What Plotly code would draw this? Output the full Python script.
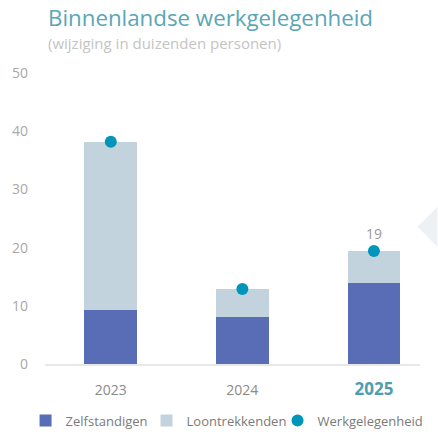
import plotly.graph_objects as go

years = ["2023", "2024", "2025"]
zelfstandigen = [9.3, 8.0, 13.9]
loontrekkenden = [28.9, 4.9, 5.6]
werkgelegenheid = [38.2, 12.9, 19.4]
y_ticks = [0, 10, 20, 30, 40, 50]
x_ticktext = ["2023", "2024", "<b><span style='color:#519DB0;font-size:17px'>2025</span></b>"]
dot_labels = ["", "", "19"]

W, H = 438, 434
L, R, T, B = 44.5, 17.5, 73, 69.7
FONT = "Open Sans"

fig = go.Figure()
fig.add_bar(x=years, y=zelfstandigen, name="Zelfstandigen", marker_color="#586DB6",
            marker_line_width=0, width=0.4, legendwidth=76)
fig.add_bar(x=years, y=loontrekkenden, name="Loontrekkenden", marker_color="#C3D3DD",
            marker_line_width=0, width=0.4, legendwidth=86)
fig.add_scatter(x=years, y=werkgelegenheid, name="Werkgelegenheid", mode="markers+text",
                marker=dict(color="#0096B9", size=12), text=dot_labels,
                textposition="top center", textfont=dict(color="#999999", size=14, family=FONT),
                legendwidth=112)

pw, ph = W - L - R, H - T - B
def px(x): return (x - L) / pw          # screen px -> paper
def py(y): return (H - B - y) / ph      # screen px -> paper

# decorative carousel arrow on the right edge
fig.add_shape(type="path", xref="paper", yref="paper",
              path=f"M {px(418)} {py(227)} L {px(438)} {py(207)} L {px(438)} {py(247)} Z",
              fillcolor="#EDF1F4", line_width=0, layer="below")

fig.add_annotation(text="Binnenlandse werkgelegenheid", xref="paper", yref="paper",
                   x=px(46), y=py(0), xanchor="left", yanchor="top", showarrow=False,
                   font=dict(family=FONT, size=22.3, color="#5AA6B6"))
fig.add_annotation(text="(wijziging in duizenden personen)", xref="paper", yref="paper",
                   x=px(46), y=py(31), xanchor="left", yanchor="top", showarrow=False,
                   font=dict(family=FONT, size=15, color="#C4C4C4"))

fig.update_layout(
    width=W, height=H, margin=dict(l=L, r=R, t=T, b=B, autoexpand=False),
    barmode="stack", bargap=0.6,
    plot_bgcolor="white", paper_bgcolor="white",
    font=dict(family=FONT, color="#8A8A8A", size=14),
    showlegend=True,
    legend=dict(orientation="h", x=px(25), y=py(406), xanchor="left", yanchor="top",
                font=dict(size=13, color="#7A7A7A"), traceorder="normal",
                itemwidth=30, tracegroupgap=0, bgcolor="rgba(0,0,0,0)"),
    xaxis=dict(range=[-0.5, 2.35], tickvals=years, ticktext=x_ticktext, showgrid=False,
               showline=True, linecolor="#E6E8EA", linewidth=2, ticks="",
               ticklabelstandoff=12, tickfont=dict(size=14, color="#8A8A8A")),
    yaxis=dict(range=[0, 50], tickvals=y_ticks, showgrid=False, zeroline=False,
               showline=False, ticks="", ticklabelstandoff=16,
               tickfont=dict(size=14, color="#A8A8A8")),
)

fig.write_html("out.html", config={"displayModeBar": False},
               post_script="document.body.style.margin='0';")
